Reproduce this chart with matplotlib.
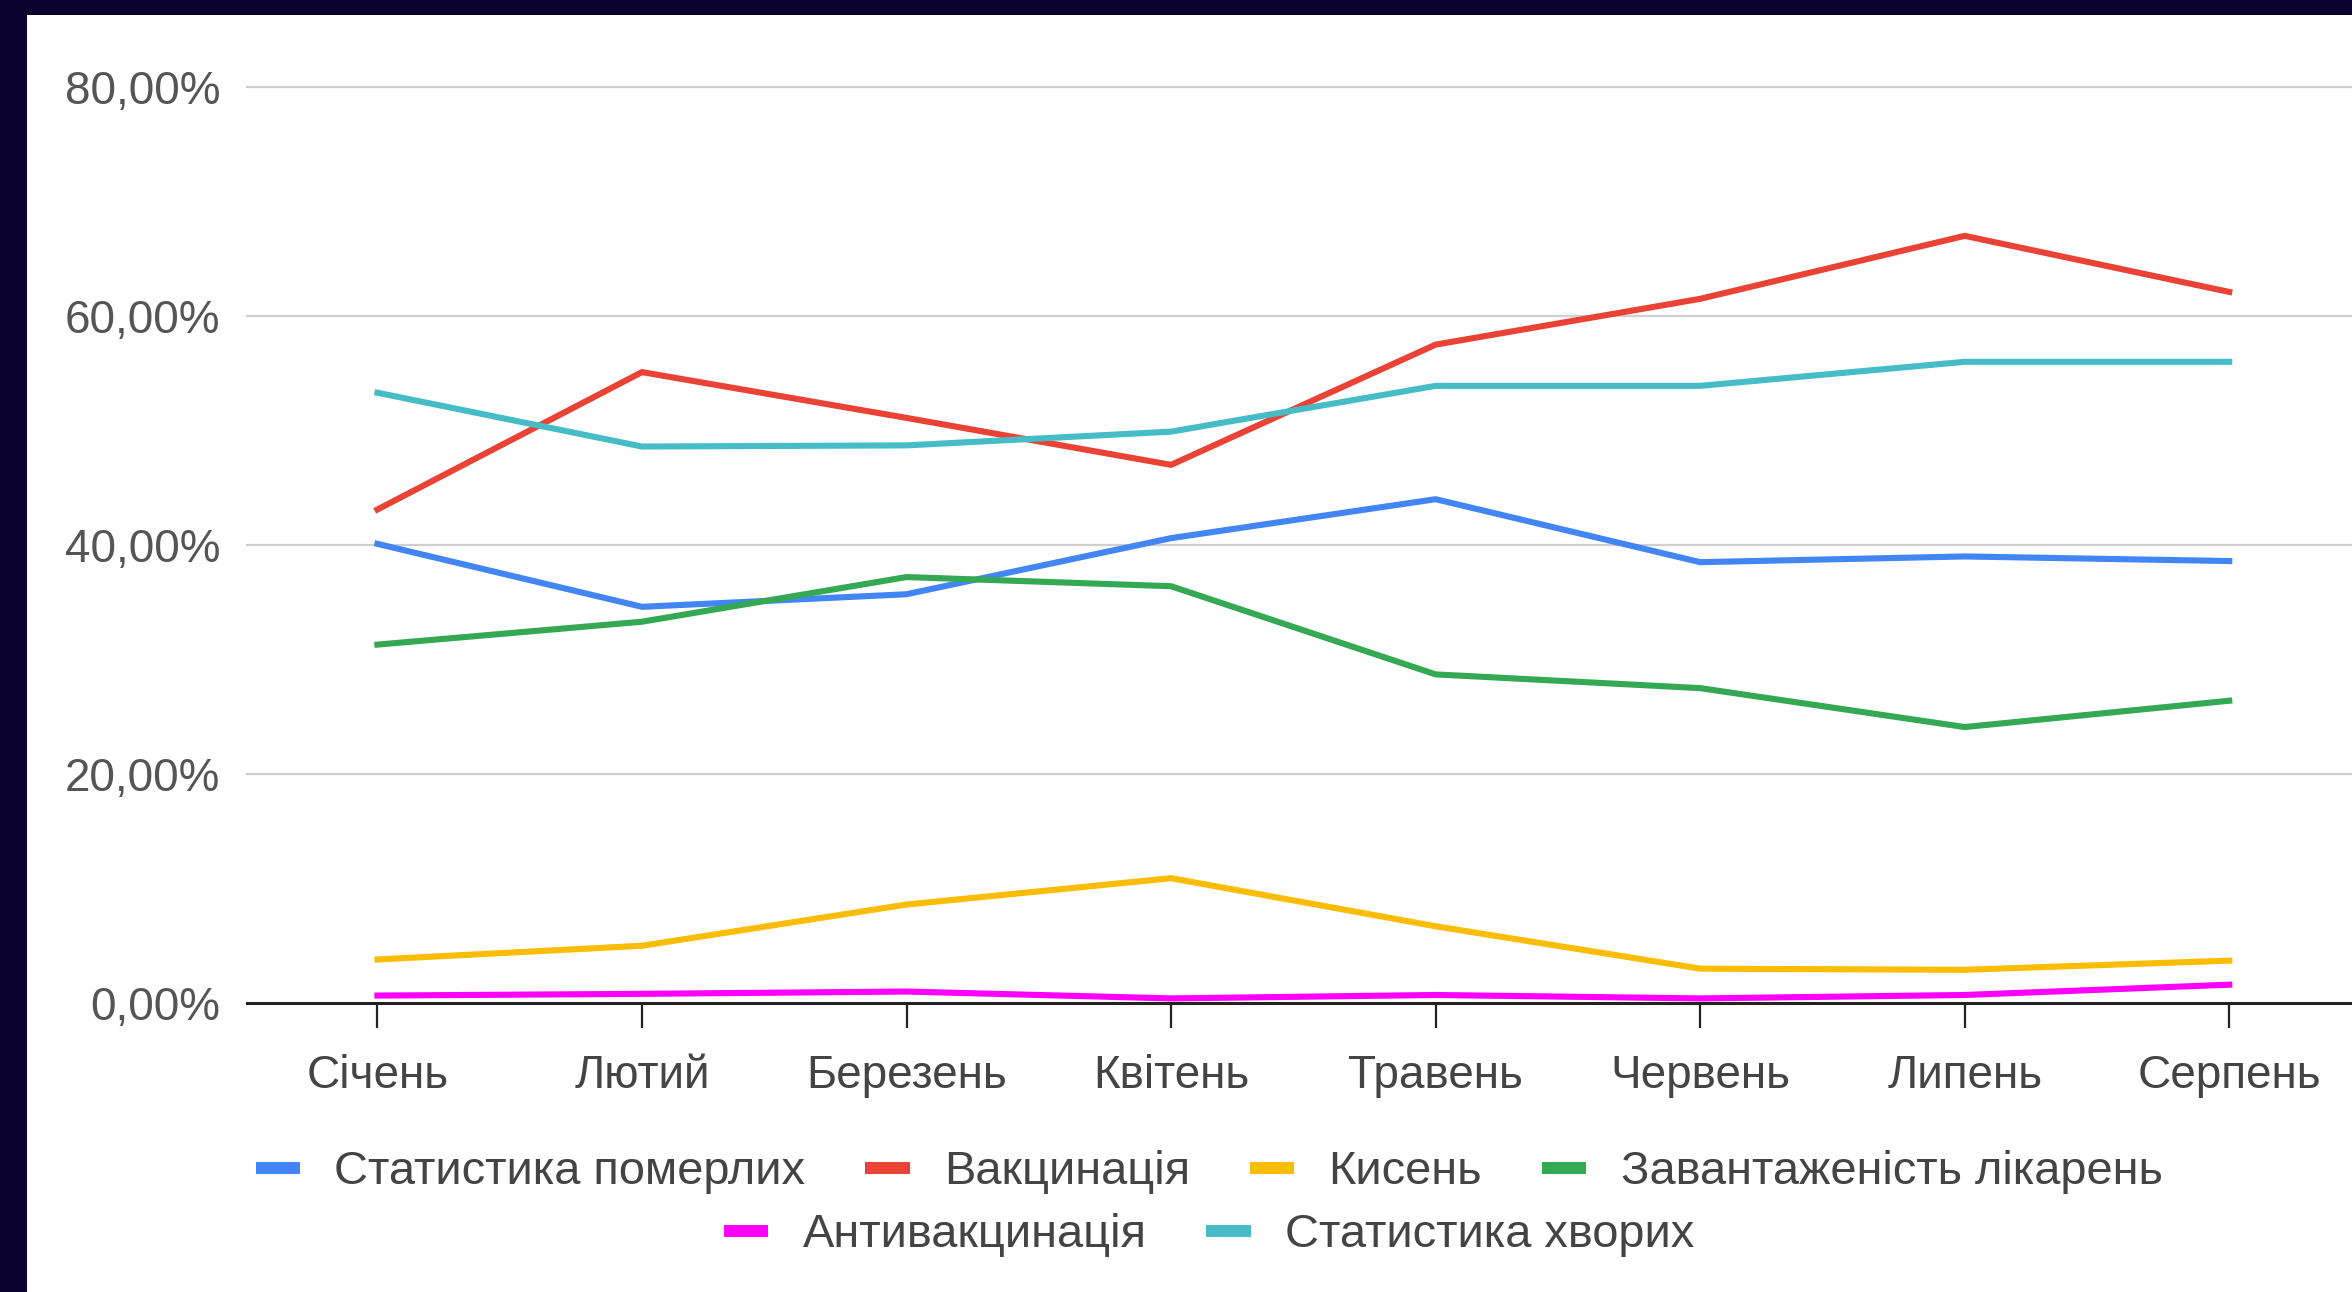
import matplotlib
matplotlib.use("Agg")
import matplotlib.pyplot as plt
from matplotlib.patches import Rectangle
from matplotlib.lines import Line2D

plt.rcParams['font.family'] = ['Liberation Sans', 'DejaVu Sans']

months = ["Січень", "Лютий", "Березень", "Квітень", "Травень", "Червень", "Липень", "Серпень"]
yticks = [0, 20, 40, 60, 80]
ytick_labels = ["0,00%", "20,00%", "40,00%", "60,00%", "80,00%"]

deaths = [40.1, 34.6, 35.7, 40.6, 44.0, 38.5, 39.0, 38.6]
vaccination = [43.1, 55.1, 51.1, 47.0, 57.5, 61.5, 67.0, 62.1]
oxygen = [3.8, 5.0, 8.6, 10.9, 6.7, 3.0, 2.9, 3.7]
hospital_load = [31.3, 33.3, 37.2, 36.4, 28.7, 27.5, 24.1, 26.4]
antivax = [0.65, 0.8, 1.0, 0.4, 0.7, 0.4, 0.7, 1.6]
sick = [53.3, 48.6, 48.7, 49.9, 53.9, 53.9, 56.0, 56.0]

series_names = ["Статистика померлих", "Вакцинація", "Кисень",
                "Завантаженість лікарень", "Антивакцинація", "Статистика хворих"]
series_values = [deaths, vaccination, oxygen, hospital_load, antivax, sick]
series_colors = ["#4285F4", "#EA4335", "#FBBC04", "#34A853", "#FF00FF", "#46BDC6"]

W, H = 2352, 1292
fig = plt.figure(figsize=(W / 100, H / 100), dpi=100)
fig.patch.set_facecolor("#0b0230")
fig.patches.append(Rectangle((27 / W, 0), 1 - 27 / W, 1 - 15 / H,
                             transform=fig.transFigure, facecolor="white",
                             edgecolor="none", zorder=-5))

ax = fig.add_axes([247 / W, (H - 1003) / H, 1 - 247 / W, (1003 - 87) / H])
ax.set_zorder(2)
ax.set_facecolor("none")
x = list(range(len(months)))
for name, vals, col in zip(series_names, series_values, series_colors):
    ax.plot(x, vals, color=col, lw=4.4, label=name, zorder=3)

ax.set_xlim(-0.493, 7.464)
ax.set_ylim(0, 80)
ax.set_yticks(yticks)
ax.set_yticklabels(ytick_labels)
ax.set_xticks(x)
ax.set_xticklabels(months)
for y in yticks[1:]:
    ax.axhline(y, color="#d0d0d0", lw=1.6, zorder=1, clip_on=False)
for s in ["top", "right", "left"]:
    ax.spines[s].set_visible(False)
ax.spines["bottom"].set_color("#222222")
ax.spines["bottom"].set_linewidth(2.2)
ax.spines["bottom"].set_zorder(2)
ax.tick_params(axis="y", length=0, pad=19, labelsize=33, labelcolor="#555555")
ax.tick_params(axis="x", length=18, width=1.6, color="#222222", pad=18.5,
               labelsize=33, labelcolor="#444444", direction="out")

leg_handles = [Line2D([], [], color=c, lw=8.6, solid_capstyle="butt") for c in series_colors]
common = dict(loc="center", frameon=False, fontsize=33.8, labelcolor="#444444",
              handlelength=0.95, handletextpad=0.73, columnspacing=1.27)
fig.legend(leg_handles[:4], series_names[:4], ncol=4,
           bbox_to_anchor=(1209 / W, 1 - 1172 / H), **common)
fig.legend(leg_handles[4:], series_names[4:], ncol=2,
           bbox_to_anchor=(1209 / W, 1 - 1235 / H), **common)

fig.savefig("out.png", dpi=100, facecolor=fig.get_facecolor())
